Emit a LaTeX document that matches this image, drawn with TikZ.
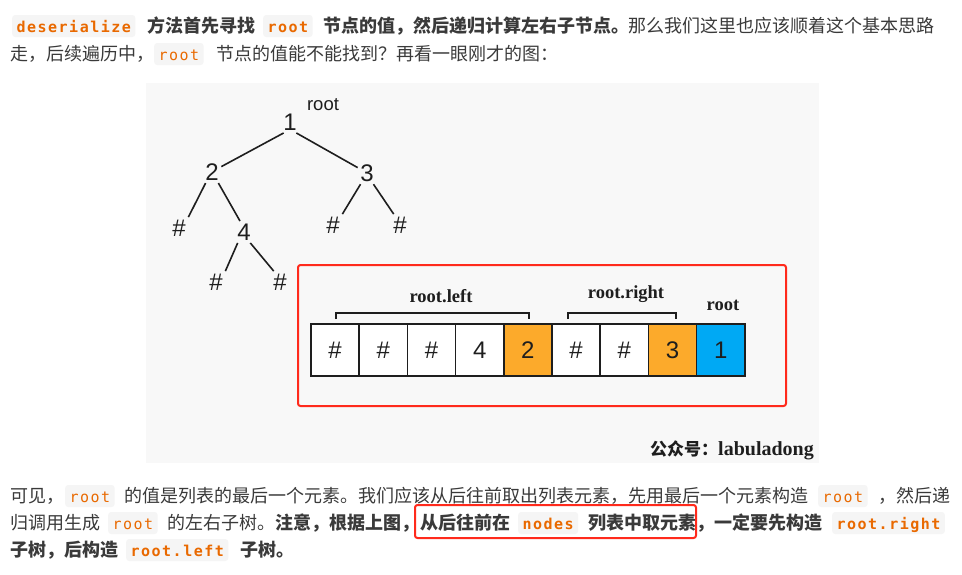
\documentclass[tikz,border=0pt]{standalone}
\usepackage{fontspec}
\setmainfont{Liberation Serif}
\setsansfont{Liberation Sans}
\newfontfamily\cjk{Noto Sans CJK SC}
\newfontfamily\codefont[LetterSpace=10]{DejaVu Sans Mono}
\usepackage{tikz}
\pgfdeclarelayer{edgelayer}
\pgfdeclarelayer{nodelayer}
\pgfsetlayers{edgelayer,nodelayer,main}
\definecolor{ink}{HTML}{3A3A3A}
\definecolor{treeink}{HTML}{1E1E1E}
\definecolor{codeorange}{HTML}{E96900}
\definecolor{codebg}{HTML}{F5F5F5}
\definecolor{photobg}{HTML}{F8F8F8}
\definecolor{arrorange}{HTML}{FCAA2B}
\definecolor{arrblue}{HTML}{00A9F4}
\definecolor{markred}{HTML}{FF2A1C}
\tikzstyle{none}=[inner sep=0pt]
\tikzstyle{tree}=[inner sep=2.5pt,text=treeink,font=\sffamily\fontsize{24}{24}\selectfont]
\tikzstyle{treelabel}=[inner sep=0pt,text=treeink,font=\sffamily\fontsize{18.5}{18.5}\selectfont]
\tikzstyle{cell}=[draw=treeink,fill=white,line width=1.6pt,minimum width=48.2pt,minimum height=52pt,inner sep=0pt,text=treeink,font=\sffamily\fontsize{24}{24}\selectfont]
\tikzstyle{childcell}=[style=cell,fill=arrorange]
\tikzstyle{rootcell}=[style=cell,fill=arrblue]
\tikzstyle{part}=[anchor=base,inner sep=0pt,text=treeink,font=\rmfamily\bfseries\fontsize{18.5}{18.5}\selectfont]
\tikzstyle{branch}=[-,draw=treeink,line width=1.6pt]
\tikzstyle{bracket}=[-,draw=treeink,line width=1.1pt]
\tikzstyle{frame}=[draw=markred,line width=2pt,rounded corners=2.5pt]
\tikzstyle{photo}=[fill=photobg]
\tikzstyle{words}=[anchor=base west,inner sep=0pt,text=ink,font=\cjk\fontsize{18}{18}\selectfont]
\tikzstyle{boldwords}=[style=words,font=\cjk\bfseries\fontsize{18}{18}\selectfont]
\tikzstyle{code}=[anchor=base west,fill=codebg,rounded corners=3pt,text=codeorange,inner xsep=4.4pt,inner ysep=0pt,text height=14pt,text depth=2pt,minimum height=22pt,font=\codefont\fontsize{15}{15}\selectfont]
\tikzstyle{boldcode}=[style=code,font=\codefont\bfseries\fontsize{15}{15}\selectfont]
\begin{document}
\begin{tikzpicture}[x=1pt,y=1pt]
	\useasboundingbox (0, 0) rectangle (962, -574);
	\begin{pgfonlayer}{nodelayer}
		% tree
		\node [style=tree] (0) at (290, -122) {1};
		\node [style=treelabel] (1) at (323, -105) {root};
		\node [style=tree] (2) at (212, -172) {2};
		\node [style=tree] (3) at (367, -173) {3};
		\node [style=tree] (4) at (179, -228) {\#};
		\node [style=tree] (5) at (244, -232) {4};
		\node [style=tree] (6) at (333, -225) {\#};
		\node [style=tree] (7) at (400, -225) {\#};
		\node [style=tree] (8) at (216, -282) {\#};
		\node [style=tree] (9) at (280, -282) {\#};
		% serialized list
		\node [style=cell] (10) at (335.1, -350) {\#};
		\node [style=cell] (11) at (383.3, -350) {\#};
		\node [style=cell] (12) at (431.5, -350) {\#};
		\node [style=cell] (13) at (479.7, -350) {4};
		\node [style=childcell] (14) at (527.9, -350) {2};
		\node [style=cell] (15) at (576.1, -350) {\#};
		\node [style=cell] (16) at (624.3, -350) {\#};
		\node [style=childcell] (17) at (672.5, -350) {3};
		\node [style=rootcell] (18) at (720.7, -350) {1};
		\node [style=part] (19) at (441, -302) {root.left};
		\node [style=part] (20) at (626, -298) {root.right};
		\node [style=part] (21) at (723, -310) {root};
		\node [style=none] (22) at (336, -319) {};
		\node [style=none] (23) at (441, -313) {};
		\node [style=none] (24) at (529, -319) {};
		\node [style=none] (25) at (568, -319) {};
		\node [style=none] (26) at (622, -313) {};
		\node [style=none] (27) at (676, -319) {};
		\node [style=none] (28) at (298, -265) {};
		\node [style=none] (29) at (786, -406) {};
		\node [style=none, anchor=base west, text=treeink] (30) at (650, -455) {{\cjk\bfseries\fontsize{17}{17}\selectfont 公众号：}{\rmfamily\bfseries\fontsize{20}{20}\selectfont labuladong}};
		\node [style=none] (31) at (146, -83) {};
		\node [style=none] (32) at (819, -463) {};
		% text above
		\node [style=boldcode] (33) at (12, -32) {deserialize};
		\node [style=boldwords] (34) at (147, -32) {方法首先寻找};
		\node [style=boldcode] (35) at (263, -32) {root};
		\node [style=boldwords] (36) at (323, -32) {节点的值，然后递归计算左右子节点。};
		\node [style=words] (37) at (628, -32) {那么我们这里也应该顺着这个基本思路};
		\node [style=words] (38) at (10, -60) {走，后续遍历中，};
		\node [style=code] (39) at (154, -60) {root};
		\node [style=words] (40) at (216, -60) {节点的值能不能找到？再看一眼刚才的图：};
		% text below
		\node [style=words] (41) at (10, -502) {可见，};
		\node [style=code] (42) at (65, -502) {root};
		\node [style=words] (43) at (124, -502) {的值是列表的最后一个元素。我们应该从后往前取出列表元素，先用最后一个元素构造};
		\node [style=code] (44) at (818, -502) {root};
		\node [style=words] (45) at (878, -502) {，然后递};
		\node [style=words] (46) at (10, -529) {归调用生成};
		\node [style=code] (47) at (108, -529) {root};
		\node [style=words] (48) at (167, -529) {的左右子树。};
		\node [style=boldwords] (49) at (275, -529) {注意，根据上图，};
		\node [style=boldwords] (50) at (420, -529) {从后往前在};
		\node [style=boldcode] (51) at (518, -529) {nodes};
		\node [style=boldwords] (52) at (588, -529) {列表中取元素};
		\node [style=boldwords] (53) at (696, -529) {，一定要先构造};
		\node [style=boldcode] (54) at (832, -529) {root.right};
		\node [style=boldwords] (55) at (10, -556) {子树，后构造};
		\node [style=boldcode] (56) at (126, -556) {root.left};
		\node [style=boldwords] (57) at (240, -556) {子树。};
		\node [style=none] (58) at (415, -505) {};
		\node [style=none] (59) at (696, -538) {};
	\end{pgfonlayer}
	\begin{pgfonlayer}{edgelayer}
		\fill [white] (0, 0) rectangle (962, -574);
		\fill [style=photo] (31.center) rectangle (32.center);
		\draw [style=branch] (0.240) to (2.30);
		\draw [style=branch] (0.300) to (3.150);
		\draw [style=branch] (2.240) to (4.north east);
		\draw [style=branch] (2.300) to (5.110);
		\draw [style=branch] (3.240) to (6.north east);
		\draw [style=branch] (3.300) to (7.120);
		\draw [style=branch] (5.240) to (8.north east);
		\draw [style=branch] (5.300) to (9.120);
		\draw [style=bracket] (22.center) |- (23.center) -| (24.center);
		\draw [style=bracket] (25.center) |- (26.center) -| (27.center);
		\draw [style=frame] (28.center) rectangle (29.center);
	\end{pgfonlayer}
	\draw [style=frame] (58.center) rectangle (59.center);
\end{tikzpicture}
\end{document}
